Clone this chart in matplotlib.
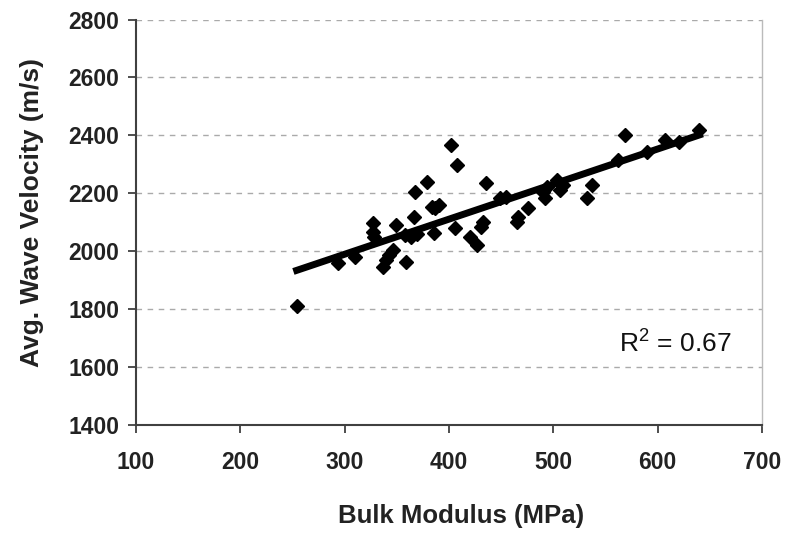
import numpy as np
import matplotlib
matplotlib.use("Agg")
import matplotlib.pyplot as plt

# Bulk modulus (MPa) vs average wave velocity (m/s)
bulk_modulus = [254, 294, 310, 327, 327, 328, 337, 340, 342, 346,
                349, 359, 358, 364, 366, 367, 369, 379, 384, 387,
                386, 390, 402, 406, 408, 420, 427, 431, 433, 435,
                449, 455, 465, 466, 476, 490, 492, 494, 503, 506,
                509, 532, 537, 562, 569, 590, 607, 620, 640]
wave_velocity = [1811, 1958, 1981, 2097, 2067, 2050, 1947, 1970, 1987, 2004,
                 2090, 1964, 2056, 2050, 2119, 2206, 2058, 2238, 2154, 2148,
                 2062, 2160, 2367, 2080, 2298, 2050, 2021, 2085, 2102, 2236,
                 2184, 2188, 2102, 2119, 2149, 2205, 2184, 2222, 2246, 2211,
                 2229, 2183, 2229, 2315, 2401, 2344, 2384, 2378, 2418]
r2_text = "R$^2$ = 0.67"

plt.rcParams['font.family'] = ['Liberation Sans', 'DejaVu Sans']
plt.rcParams['mathtext.fontset'] = 'custom'
plt.rcParams['mathtext.rm'] = 'Liberation Sans'

fig = plt.figure(figsize=(7.88, 5.33), dpi=100)
ax = fig.add_axes([0.1726, 0.2026, 0.7945, 0.7608])

ax.plot(bulk_modulus, wave_velocity, 'D', color='black', markersize=7, zorder=3)

# linear trendline
slope, icpt = np.polyfit(bulk_modulus, wave_velocity, 1)
xs = np.array([min(bulk_modulus), max(bulk_modulus)])
ax.plot(xs, slope * xs + icpt, color='black', linewidth=5, zorder=4)

ax.set_xlim(100, 700)
ax.set_ylim(1400, 2800)
ax.set_xticks(range(100, 701, 100))
ax.set_yticks(range(1400, 2801, 200))
ax.yaxis.grid(True, linestyle=(0, (4, 4)), color='#aaaaaa', linewidth=1)
ax.set_axisbelow(True)

for s in ['left', 'bottom']:
    ax.spines[s].set_color('#404040')
    ax.spines[s].set_linewidth(1.5)
ax.spines['top'].set_visible(False)
ax.spines['right'].set_color('#bbbbbb')
ax.spines['right'].set_linewidth(1)

ax.tick_params(direction='out', length=6, width=1.3, color='#404040',
               labelsize=16.5)
ax.tick_params(axis='x', pad=13)
ax.tick_params(axis='y', pad=6)
for lab in ax.get_xticklabels() + ax.get_yticklabels():
    lab.set_fontweight('bold')
    lab.set_color('#222222')

ax.set_xlabel("Bulk Modulus (MPa)", fontsize=18.5, fontweight='bold', color='#222222')
ax.set_ylabel("Avg. Wave Velocity (m/s)", fontsize=19, fontweight='bold', color='#222222')
ax.xaxis.set_label_coords(0.519, -0.195)
ax.yaxis.set_label_coords(-0.147, 0.525)

ax.text(617, 1683, r2_text, fontsize=19, ha='center', va='center', color='#111111')

fig.savefig("out.png", dpi=100)
